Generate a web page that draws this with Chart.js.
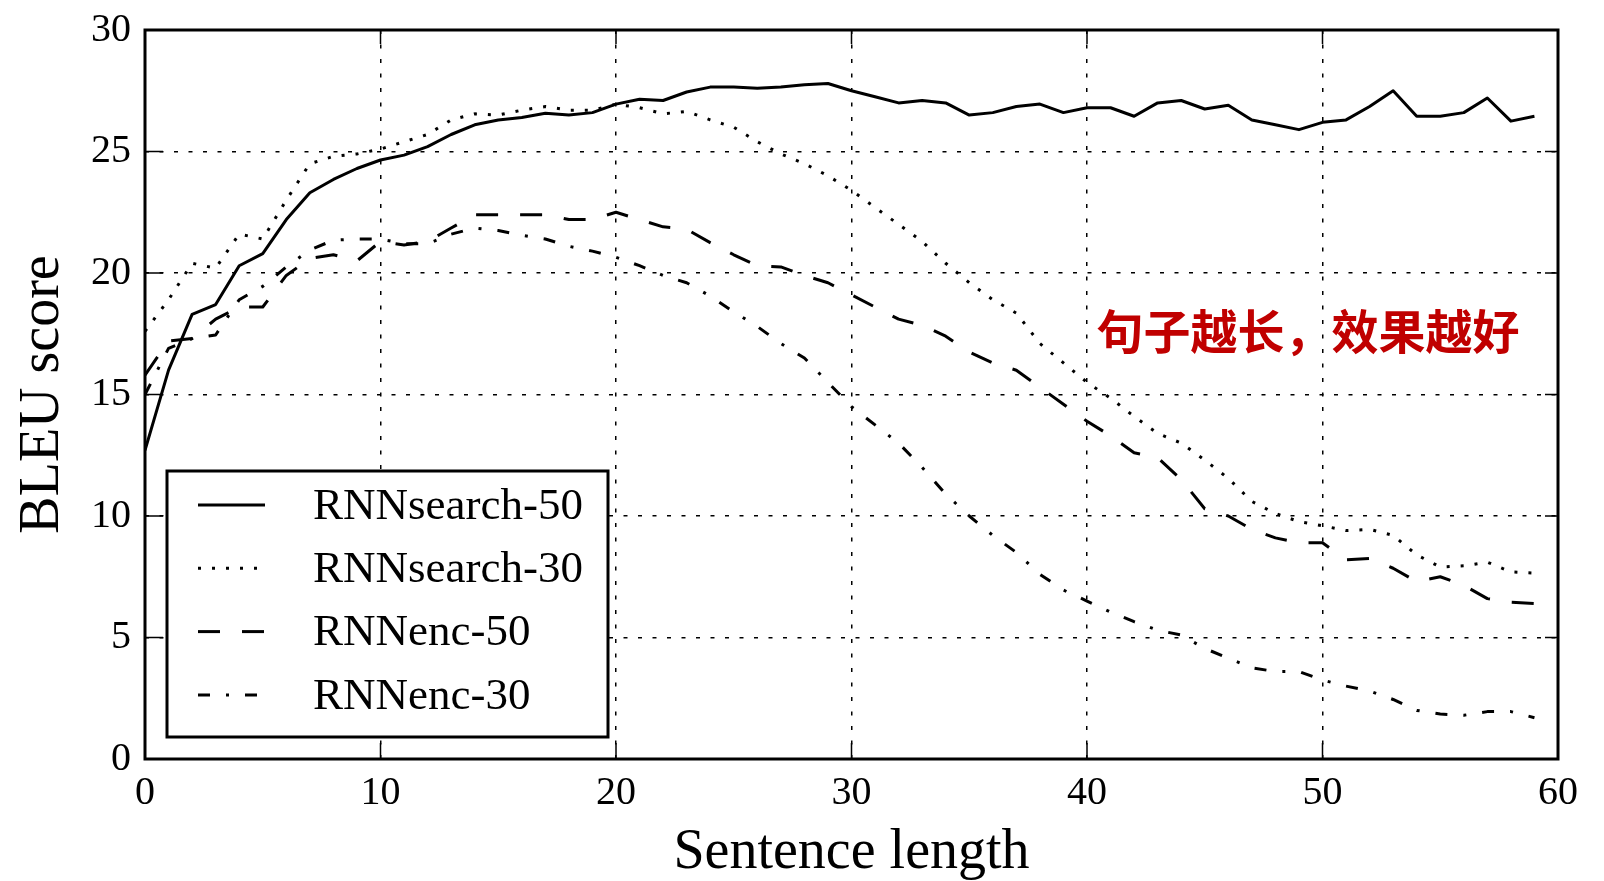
<!DOCTYPE html>
<html lang="zh">
<head>
<meta charset="UTF-8">
<title>BLEU score vs sentence length</title>
<style>
  body { margin: 0; background: #fff; }
  #wrap { width: 1604px; height: 881px; }
</style>
</head>
<body>
<div id="wrap"><canvas id="chart" width="1604" height="881"></canvas></div>
<script src="https://cdn.jsdelivr.net/npm/chart.js"></script>
<script>
// sentence lengths (x axis)
const lengths = [0, 1, 2, 3, 4, 5, 6, 7, 8, 9, 10, 11, 12, 13, 14, 15, 16, 17, 18, 19,
  20, 21, 22, 23, 24, 25, 26, 27, 28, 29, 30, 31, 32, 33, 34, 35, 36, 37, 38, 39,
  40, 41, 42, 43, 44, 45, 46, 47, 48, 49, 50, 51, 52, 53, 54, 55, 56, 57, 58, 59];

const rnnsearch50 = [12.7, 16.0, 18.3, 18.7, 20.3, 20.8, 22.2, 23.3, 23.85, 24.3,
  24.65, 24.85, 25.2, 25.7, 26.1, 26.3, 26.4, 26.57, 26.5, 26.6,
  26.95, 27.15, 27.1, 27.45, 27.65, 27.65, 27.6, 27.65, 27.75, 27.8,
  27.5, 27.25, 27.0, 27.1, 27.0, 26.5, 26.6, 26.85, 26.95, 26.6,
  26.8, 26.8, 26.45, 27.0, 27.1, 26.75, 26.9, 26.3, 26.1, 25.9,
  26.2, 26.3, 26.85, 27.5, 26.45, 26.45, 26.6, 27.2, 26.25, 26.45];

const rnnsearch30 = [17.6, 18.9, 20.4, 20.2, 21.6, 21.4, 23.0, 24.5, 24.8, 24.9,
  25.1, 25.4, 25.7, 26.3, 26.55, 26.5, 26.7, 26.85, 26.7, 26.7,
  26.95, 26.8, 26.55, 26.65, 26.3, 26.0, 25.4, 24.9, 24.5, 24.0,
  23.4, 22.7, 22.0, 21.3, 20.4, 19.6, 18.9, 18.35, 17.1, 16.3,
  15.5, 14.85, 14.1, 13.4, 13.0, 12.3, 11.55, 10.6, 10.1, 9.77,
  9.6, 9.4, 9.45, 9.2, 8.4, 7.9, 7.95, 8.1, 7.7, 7.65];

const rnnenc50 = [15.8, 17.2, 17.3, 18.1, 18.6, 18.6, 19.9, 20.6, 20.75, 20.5,
  21.3, 21.15, 21.3, 21.85, 22.4, 22.4, 22.4, 22.4, 22.2, 22.2,
  22.5, 22.2, 21.9, 21.8, 21.25, 20.75, 20.3, 20.25, 19.9, 19.6,
  19.1, 18.6, 18.1, 17.85, 17.4, 16.75, 16.3, 16.0, 15.3, 14.6,
  13.9, 13.3, 12.6, 12.4, 11.5, 10.3, 10.0, 9.45, 9.1, 8.9,
  8.9, 8.2, 8.25, 7.85, 7.3, 7.5, 7.15, 6.6, 6.45, 6.4];

const rnnenc30 = [15.0, 16.9, 17.3, 17.45, 18.9, 19.45, 20.25, 20.95, 21.35, 21.4,
  21.4, 21.2, 21.2, 21.6, 21.85, 21.75, 21.55, 21.4, 21.1, 20.9,
  20.65, 20.3, 19.9, 19.6, 19.05, 18.4, 17.8, 17.1, 16.5, 15.5,
  14.5, 13.75, 13.0, 12.0, 10.9, 10.0, 9.2, 8.5, 7.6, 6.95,
  6.5, 6.05, 5.65, 5.3, 5.1, 4.55, 4.15, 3.75, 3.6, 3.6,
  3.25, 3.0, 2.8, 2.45, 2.0, 1.85, 1.8, 1.95, 1.95, 1.7];

const seriesNames = ['RNNsearch-50', 'RNNsearch-30', 'RNNenc-50', 'RNNenc-30'];
const xTicks = [0, 10, 20, 30, 40, 50, 60];
const yTicks = [0, 5, 10, 15, 20, 25, 30];
const note = '句子越长，效果越好';

const serif = "'Liberation Serif', 'Times New Roman', serif";

function pts(vals) {
  return vals.map((v, i) => ({ x: lengths[i], y: v }));
}

function line(label, vals, dash, width) {
  return {
    label: label,
    data: pts(vals),
    borderColor: '#000',
    borderWidth: width,
    borderDash: dash,
    borderCapStyle: 'butt',
    borderJoinStyle: 'round',
    pointRadius: 0,
    tension: 0,
    fill: false
  };
}

// frame, inward ticks, boxed legend and the red note
const extras = {
  id: 'extras',
  afterDraw(chart) {
    const { ctx, chartArea: a, scales: { x, y } } = chart;
    ctx.save();

    // legend box
    const bx = a.left + 22, by = a.bottom - 288, bw = 441, bh = 266;
    ctx.fillStyle = '#fff';
    ctx.fillRect(bx, by, bw, bh);
    ctx.lineWidth = 3;
    ctx.strokeStyle = '#000';
    ctx.setLineDash([]);
    ctx.strokeRect(bx, by, bw, bh);

    ctx.font = '45px ' + serif;
    ctx.fillStyle = '#000';
    ctx.textBaseline = 'middle';
    ctx.textAlign = 'left';
    chart.data.datasets.forEach((ds, i) => {
      const ly = by + 34 + i * 63.3;
      ctx.beginPath();
      ctx.lineWidth = ds.borderWidth;
      ctx.setLineDash(ds.borderDash);
      ctx.moveTo(bx + 31, ly);
      ctx.lineTo(bx + 98, ly);
      ctx.stroke();
      ctx.setLineDash([]);
      ctx.fillText(ds.label, bx + 146, ly + 2);
    });

    // inward tick marks on all four sides
    ctx.lineWidth = 1.5;
    ctx.setLineDash([]);
    ctx.beginPath();
    x.ticks.forEach(t => {
      const px = x.getPixelForValue(t.value);
      ctx.moveTo(px, a.bottom); ctx.lineTo(px, a.bottom - 16);
      ctx.moveTo(px, a.top); ctx.lineTo(px, a.top + 14);
    });
    y.ticks.forEach(t => {
      const py = y.getPixelForValue(t.value);
      ctx.moveTo(a.left, py); ctx.lineTo(a.left + 18, py);
      ctx.moveTo(a.right, py); ctx.lineTo(a.right - 13, py);
    });
    ctx.stroke();

    // plot frame
    ctx.lineWidth = 3;
    ctx.strokeRect(a.left, a.top, a.right - a.left, a.bottom - a.top);

    // annotation
    ctx.font = "bold 47px 'Noto Sans CJK SC', sans-serif";
    ctx.fillStyle = '#c00000';
    ctx.textBaseline = 'middle';
    ctx.fillText(note, x.getPixelForValue(40.4), y.getPixelForValue(17.6));

    ctx.restore();
  }
};

const gridStyle = {
  color: '#000',
  lineWidth: 1.5,
  drawTicks: false
};

new Chart(document.getElementById('chart'), {
  type: 'line',
  data: {
    datasets: [
      line(seriesNames[0], rnnsearch50, [], 3),
      line(seriesNames[1], rnnsearch30, [3, 11], 3),
      line(seriesNames[2], rnnenc50, [22, 22], 3),
      line(seriesNames[3], rnnenc30, [12, 16, 3, 16], 3)
    ]
  },
  options: {
    responsive: false,
    animation: false,
    events: [],
    layout: { padding: { left: 0, top: 30, right: 46, bottom: 0 } },
    plugins: {
      legend: { display: false },
      tooltip: { enabled: false }
    },
    scales: {
      x: {
        type: 'linear',
        min: 0,
        max: 60,
        afterFit: s => { s.height = 122; },
        afterBuildTicks: s => { s.ticks = xTicks.map(v => ({ value: v })); },
        border: { display: false, dash: [4, 10.5] },
        grid: gridStyle,
        ticks: { color: '#000', padding: 10, maxRotation: 0, font: { family: serif, size: 40 } },
        title: {
          display: true,
          text: 'Sentence length',
          color: '#000',
          padding: { top: 0, bottom: 0 },
          font: { family: serif, size: 56, lineHeight: 1 }
        }
      },
      y: {
        min: 0,
        max: 30,
        afterFit: s => { s.width = 145; },
        afterBuildTicks: s => { s.ticks = yTicks.map(v => ({ value: v })); },
        border: { display: false, dash: [4, 10.5] },
        grid: gridStyle,
        ticks: { color: '#000', padding: 14, font: { family: serif, size: 40, lineHeight: 0.7 } },
        title: {
          display: true,
          text: 'BLEU score',
          color: '#000',
          padding: { top: 15, bottom: 0 },
          font: { family: serif, size: 56, lineHeight: 1 }
        }
      }
    }
  },
  plugins: [extras]
});
</script>
</body>
</html>
